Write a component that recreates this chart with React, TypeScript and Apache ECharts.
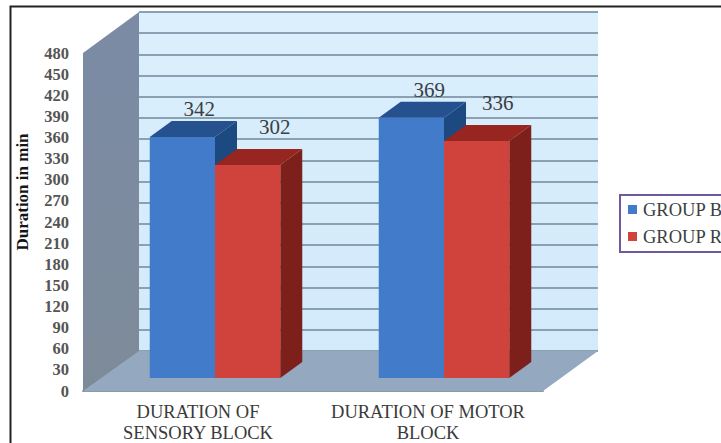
import React, { useEffect, useRef } from "react";
import * as echarts from "echarts";

const categories = ["DURATION OF\nSENSORY BLOCK", "DURATION OF MOTOR\nBLOCK"];
const groupB = [342, 369];
const groupR = [302, 336];
const axisMax = 480;
const axisStep = 30;

const SERIF = "Liberation Serif";
const BAR_SHARE = 0.285;
const DEPTH_X = 22;
const DEPTH_Y = -16;

type Shade = { front: string; top: string; side: string };
const blueShade: Shade = { front: "#427bca", top: "#26518f", side: "#1c4a80" };
const redShade: Shade = { front: "#d0423c", top: "#96261f", side: "#7d201b" };

// Builds a 3-D looking column: front face, top face, side face and value text.
function columnRenderer(shade: Shade, side: -1 | 0, labelDx: number[], labelDy: number) {
  return (params: any, api: any) => {
    const idx = api.value(0);
    const value = api.value(1);
    const [cx, top] = api.coord([idx, value]);
    const [, base] = api.coord([idx, 0]);
    const w = api.size([1, 0])[0] * BAR_SHARE;
    const x0 = cx + side * w;
    const x1 = x0 + w;
    const poly = (points: number[][], fill: string) => ({
      type: "polygon",
      shape: { points },
      style: { fill },
    });
    return {
      type: "group",
      children: [
        poly(
          [
            [x1, top],
            [x1 + DEPTH_X, top + DEPTH_Y],
            [x1 + DEPTH_X, base + DEPTH_Y],
            [x1, base],
          ],
          shade.side
        ),
        poly(
          [
            [x0, top],
            [x0 + DEPTH_X, top + DEPTH_Y],
            [x1 + DEPTH_X, top + DEPTH_Y],
            [x1, top],
          ],
          shade.top
        ),
        poly(
          [
            [x0, top],
            [x1, top],
            [x1, base],
            [x0, base],
          ],
          shade.front
        ),
        {
          type: "text",
          style: {
            x: (x0 + x1) / 2 + labelDx[params.dataIndex],
            y: top + labelDy,
            text: String(value),
            align: "center",
            verticalAlign: "middle",
            fontFamily: SERIF,
            fontSize: 21,
            fill: "#3a3f45",
          },
        },
      ],
    };
  };
}

const buildOption = () => ({
  animation: false,
  backgroundColor: "#ffffff",
  grid: [
    // back wall, carries the horizontal rules
    {
      left: 139,
      top: 12,
      width: 459,
      height: 339,
      show: true,
      borderWidth: 0,
      outerBoundsMode: "none",
      backgroundColor: {
        type: "linear",
        x: 0,
        y: 0,
        x2: 0,
        y2: 1,
        colorStops: [
          { offset: 0, color: "#dbeffc" },
          { offset: 1, color: "#d3eafb" },
        ],
      },
    },
    // front edge of the floor, carries the axis labels
    { left: 83, top: 53, width: 460, height: 338, outerBoundsMode: "none" },
    // plane in which the columns stand
    { left: 100.5, top: 39.6, width: 458, height: 338.4, outerBoundsMode: "none" },
  ],
  xAxis: [
    { gridIndex: 0, type: "category", data: categories, show: false },
    {
      gridIndex: 1,
      type: "category",
      data: categories,
      axisTick: { show: false },
      axisLine: { show: true, lineStyle: { color: "#8b9aa3", width: 2 } },
      axisLabel: {
        margin: 10,
        interval: 0,
        fontFamily: SERIF,
        fontSize: 18.5,
        lineHeight: 21,
        color: "#3a3a3a",
      },
    },
    { gridIndex: 2, type: "category", data: categories, show: false },
  ],
  yAxis: [
    {
      gridIndex: 0,
      type: "value",
      min: 0,
      max: axisMax,
      interval: axisStep,
      axisLine: { show: false },
      axisTick: { show: false },
      axisLabel: { show: false },
      splitLine: { show: true, lineStyle: { color: "#8aa1b4", width: 2 } },
    },
    {
      gridIndex: 1,
      type: "value",
      min: 0,
      max: axisMax,
      interval: axisStep,
      axisLine: { show: false },
      axisTick: { show: false },
      splitLine: { show: false },
      axisLabel: {
        margin: 14,
        fontFamily: SERIF,
        fontSize: 16.5,
        fontWeight: "bold",
        color: "#555555",
      },
    },
    {
      gridIndex: 2,
      type: "value",
      min: 0,
      max: axisMax,
      interval: axisStep,
      show: false,
    },
  ],
  legend: {
    orient: "vertical",
    left: 620,
    top: 195,
    padding: [5, 12, 6, 8],
    itemGap: 8,
    itemWidth: 9,
    itemHeight: 9,
    icon: "rect",
    borderColor: "#6f5a9e",
    borderWidth: 2,
    backgroundColor: "#ffffff",
    textStyle: {
      fontFamily: SERIF,
      fontSize: 18.5,
      color: "#3a3f3f",
      padding: [0, 0, 0, 1],
    },
    data: ["GROUP B", "GROUP R"],
  },
  graphic: [
    // page frame (open at the right and bottom)
    {
      type: "polyline",
      z: 0,
      shape: {
        points: [
          [10.5, 443],
          [10.5, 6.5],
          [721, 6.5],
        ],
      },
      style: { stroke: "#222222", lineWidth: 2, fill: "none" },
    },
    // left wall
    {
      type: "polygon",
      z: 1,
      shape: {
        points: [
          [83, 53],
          [139, 12],
          [139, 352],
          [83, 392],
        ],
      },
      style: {
        fill: {
          type: "linear",
          x: 0,
          y: 0,
          x2: 0,
          y2: 1,
          colorStops: [
            { offset: 0, color: "#7b8ba5" },
            { offset: 1, color: "#7d8b99" },
          ],
        },
      },
    },
    // floor
    {
      type: "polygon",
      z: 1,
      shape: {
        points: [
          [83, 391],
          [139, 351],
          [598, 351],
          [543, 391],
        ],
      },
      style: { fill: "#94a9bf" },
    },
    {
      type: "text",
      z: 3,
      x: 22,
      y: 192,
      rotation: Math.PI / 2,
      style: {
        text: "Duration in min",
        align: "center",
        verticalAlign: "middle",
        fontFamily: SERIF,
        fontSize: 17,
        fontWeight: "bold",
        fill: "#151515",
      },
    },
  ],
  series: [
    {
      name: "GROUP B",
      type: "custom",
      xAxisIndex: 2,
      yAxisIndex: 2,
      z: 5,
      clip: false,
      itemStyle: { color: blueShade.front },
      encode: { x: 0, y: 1 },
      data: groupB.map((v, i) => [i, v]),
      renderItem: columnRenderer(blueShade, -1, [17, 18], -28),
    },
    {
      name: "GROUP R",
      type: "custom",
      xAxisIndex: 2,
      yAxisIndex: 2,
      z: 6,
      clip: false,
      itemStyle: { color: redShade.front },
      encode: { x: 0, y: 1 },
      data: groupR.map((v, i) => [i, v]),
      renderItem: columnRenderer(redShade, 0, [27, 21], -38),
    },
  ],
});

export default function App() {
  const ref = useRef<HTMLDivElement>(null);
  useEffect(() => {
    const chart = echarts.init(ref.current!, undefined, { renderer: "svg" });
    chart.setOption(buildOption() as any);
    return () => chart.dispose();
  }, []);
  return (
    <div
      ref={ref}
      style={{ position: "fixed", left: 0, top: 0, width: 721, height: 443 }}
    />
  );
}
